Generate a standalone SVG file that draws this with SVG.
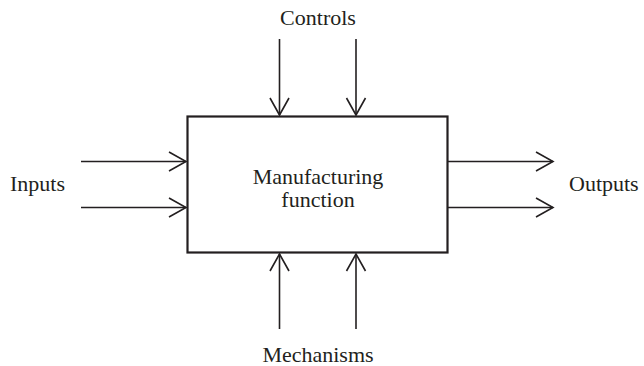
<svg xmlns="http://www.w3.org/2000/svg" width="644" height="366" viewBox="0 0 644 366">
  <style>
    .lbl { font-family: "Liberation Serif", "Times New Roman", serif; font-size: 22px; fill: #231f20; }
    .box { fill: #fff; stroke: #231f20; stroke-width: 2.2; }
    .arr { fill: none; stroke: #231f20; stroke-width: 1.6; marker-end: url(#head); }
  </style>
  <defs>
    <marker id="head" markerUnits="userSpaceOnUse" viewBox="-20 -12 22 24" refX="0" refY="0" markerWidth="22" markerHeight="24" orient="auto">
      <path d="M-17,-9.5 L0,0 L-17,9.5" fill="none" stroke="#231f20" stroke-width="1.6"/>
    </marker>
  </defs>
  <rect width="644" height="366" fill="#fff"/>

  <g id="connectors">
    <!-- controls (top, pointing down) -->
    <line class="arr" x1="279.5" y1="39" x2="279.5" y2="115"/>
    <line class="arr" x1="356" y1="39" x2="356" y2="115"/>
    <!-- inputs (left, pointing right) -->
    <line class="arr" x1="81" y1="161.5" x2="186" y2="161.5"/>
    <line class="arr" x1="81" y1="207.5" x2="186" y2="207.5"/>
    <!-- outputs (right, pointing right) -->
    <line class="arr" x1="448" y1="161.5" x2="553" y2="161.5"/>
    <line class="arr" x1="448" y1="207.5" x2="553" y2="207.5"/>
    <!-- mechanisms (bottom, pointing up) -->
    <line class="arr" x1="279.5" y1="329" x2="279.5" y2="254"/>
    <line class="arr" x1="356" y1="329" x2="356" y2="254"/>
  </g>

  <g id="function">
    <rect class="box" x="187.5" y="116.5" width="260" height="136"/>
    <text class="lbl" x="318" y="184" text-anchor="middle">Manufacturing</text>
    <text class="lbl" x="318" y="206.5" text-anchor="middle">function</text>
  </g>

  <g id="controls">
    <text class="lbl" x="318" y="25" text-anchor="middle">Controls</text>
  </g>
  <g id="inputs">
    <text class="lbl" x="10" y="190.5">Inputs</text>
  </g>
  <g id="outputs">
    <text class="lbl" x="569" y="190.5">Outputs</text>
  </g>
  <g id="mechanisms">
    <text class="lbl" x="318" y="361.5" text-anchor="middle">Mechanisms</text>
  </g>
</svg>
